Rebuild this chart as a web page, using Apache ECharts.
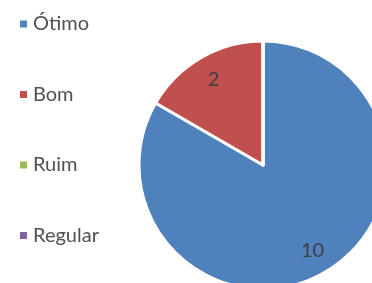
<!DOCTYPE html>
<html>
<head>
<meta charset="utf-8">
<script src="https://cdn.jsdelivr.net/npm/echarts@6/dist/echarts.min.js"></script>
<style>
  html, body { margin: 0; padding: 0; background: #fff; }
  #chart { width: 372px; height: 283px; }
</style>
</head>
<body>
<div id="chart"></div>
<script>
// dados
const categorias = ['Ótimo', 'Bom', 'Ruim', 'Regular'];
const valores = [10, 2, 0, 0];
const cores = ['#4F81BD', '#C0504D', '#9BBB59', '#8064A2'];

let dados = categorias.map((c, i) => ({ name: c, value: valores[i] }));

let ec = echarts.init(document.getElementById('chart'));

let option = {
  animation: false,
  color: cores,
  legend: {
    orient: 'vertical',
    left: 13,
    top: 9,
    itemWidth: 9,
    itemHeight: 9,
    itemGap: 50.5,
    icon: 'rect',
    data: categorias,
    textStyle: {
      fontFamily: 'Lato',
      fontSize: 20,
      lineHeight: 20,
      color: '#505050',
      padding: [0, 0, 0, 0]
    }
  },
  series: [
    {
      type: 'pie',
      center: [263, 165],
      radius: 124,
      startAngle: 90,
      clockwise: true,
      stillShowZeroSum: false,
      itemStyle: { borderColor: '#fff', borderWidth: 3 },
      label: { show: false },
      labelLine: { show: false },
      emphasis: { disabled: true },
      data: dados
    },
    {
      // serie só para posicionar os rótulos
      type: 'pie',
      center: [263, 165],
      radius: 192,
      startAngle: 90,
      clockwise: true,
      silent: true,
      z: 3,
      itemStyle: { color: 'transparent', borderWidth: 0 },
      label: {
        show: true,
        position: 'inside',
        fontFamily: 'Lato',
        fontSize: 20,
        color: '#404040',
        formatter: p => p.value > 0 ? String(p.value) : ''
      },
      labelLine: { show: false },
      emphasis: { disabled: true },
      data: dados
    }
  ]
};
ec.setOption(option);
</script>
</body>
</html>
